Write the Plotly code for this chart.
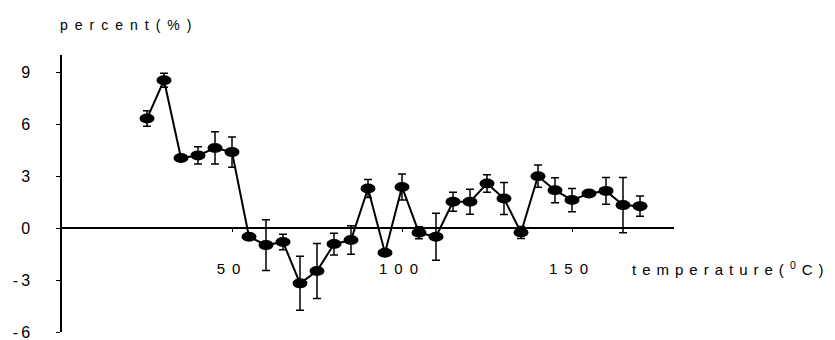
import plotly.graph_objects as go

# ---- data ----
temperature = [25, 30, 35, 40, 45, 50, 55, 60, 65, 70, 75, 80, 85, 90, 95,
               100, 105, 110, 115, 120, 125, 130, 135, 140, 145, 150, 155, 160, 165, 170]
percent = [6.33, 8.54, 4.05, 4.2, 4.63, 4.39, -0.5, -0.98, -0.8, -3.19, -2.48, -0.92, -0.69, 2.29, -1.42,
           2.38, -0.27, -0.5, 1.52, 1.52, 2.58, 1.71, -0.25, 3.0, 2.19, 1.62, 2.0, 2.15, 1.33, 1.27]
error = [0.45, 0.4, 0.1, 0.5, 0.93, 0.87, 0.1, 1.47, 0.45, 1.56, 1.59, 0.63, 0.82, 0.52, 0.1,
         0.75, 0.35, 1.36, 0.55, 0.72, 0.51, 0.93, 0.35, 0.64, 0.72, 0.67, 0.1, 0.77, 1.6, 0.59]
x_tick_values = [50, 100, 150]
y_tick_values = [-6, -3, 0, 3, 6, 9]

Y_MIN, Y_MAX = -6, 10
X_MIN, X_MAX = 0, 180
FONT = "Liberation Sans, Arial, sans-serif"


def spaced(s, px=6):
    return f'<span style="letter-spacing:{px}px">{s}</span>'


fig = go.Figure()
fig.add_trace(go.Scatter(
    x=temperature, y=percent, mode="lines",
    line=dict(color="black", width=2),
    error_y=dict(type="data", array=error, visible=True, color="black", thickness=1.5, width=4),
    showlegend=False, hoverinfo="skip",
))

# elliptical markers (wider than tall), anchored on the data values
for xv, yv in zip(temperature, percent):
    fig.add_shape(type="circle", xref="x", yref="y",
                  xsizemode="pixel", ysizemode="pixel",
                  xanchor=xv, yanchor=yv, x0=-7.5, x1=7.5, y0=-5, y1=5,
                  fillcolor="black", line=dict(color="black", width=0))

fig.update_layout(
    width=835, height=340,
    margin=dict(l=62, r=161, t=55, b=8),
    paper_bgcolor="white", plot_bgcolor="white",
    font=dict(family=FONT, size=15, color="black"),
    xaxis=dict(
        range=[X_MIN, X_MAX], anchor="free",
        position=(0 - Y_MIN) / (Y_MAX - Y_MIN),
        showline=True, linecolor="black", linewidth=1.5,
        showgrid=False, zeroline=False,
        tickmode="array", tickvals=x_tick_values,
        ticktext=[spaced(str(v), 7) for v in x_tick_values],
        ticks="outside", ticklen=3, tickcolor="black",
        ticklabelstandoff=24, automargin=False,
        tickfont=dict(family=FONT, size=15, color="black"),
    ),
    yaxis=dict(
        range=[Y_MIN, Y_MAX],
        showline=True, linecolor="black", linewidth=1.5,
        showgrid=False, zeroline=False,
        tickmode="array", tickvals=y_tick_values,
        ticktext=[spaced(str(v), 3) for v in y_tick_values],
        ticks="outside", ticklen=4, tickcolor="black",
        ticklabelstandoff=20, automargin=False,
        ticklabeloverflow="allow",
        tickfont=dict(family=FONT, size=16, color="black"),
    ),
    annotations=[
        dict(text=spaced("percent(%)", 7), xref="paper", yref="paper",
             x=-4 / 612, y=(332 - 25) / 277, xanchor="left", yanchor="middle",
             showarrow=False, font=dict(family=FONT, size=14, color="black")),
        dict(text=spaced("temperature(<sup>0</sup>C)", 6), xref="paper", yref="paper",
             x=(630 - 62) / 612, y=(332 - 268) / 277, xanchor="left", yanchor="middle",
             showarrow=False, font=dict(family=FONT, size=15, color="black")),
    ],
)

fig.write_html("out.html")
